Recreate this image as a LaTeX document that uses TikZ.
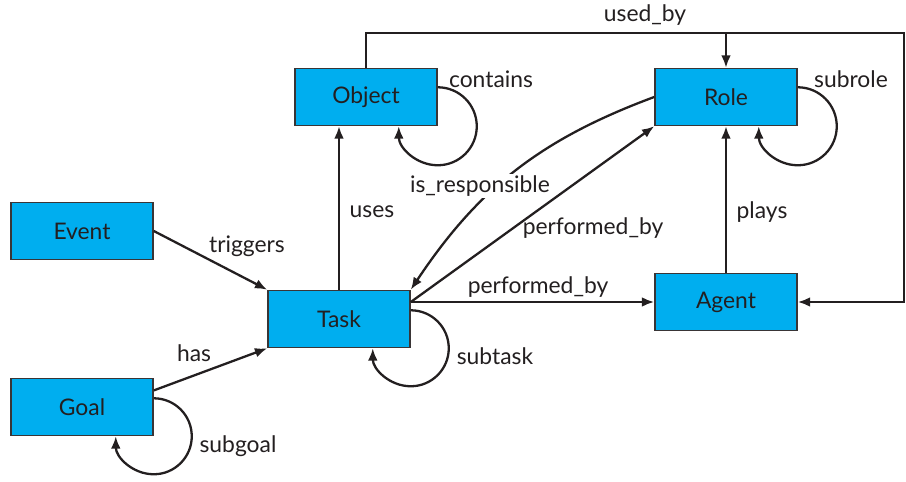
\documentclass[tikz,border=0pt]{standalone}
\usepackage{fontspec}
\setmainfont{Lato}
\usepackage{tikz}
\usetikzlibrary{arrows.meta,positioning,calc}
\definecolor{boxblue}{RGB}{0,174,239}
\definecolor{inkdark}{RGB}{35,31,32}

\begin{document}
\begin{tikzpicture}[x=0.02cm, y=-0.02cm,
    box/.style={rectangle, draw=inkdark!90, line width=0.9pt, fill=boxblue, minimum width=2.84cm, minimum height=1.14cm, inner sep=0pt, font=\fontsize{13}{15}\selectfont, text=inkdark},
    lbl/.style={font=\fontsize{13}{15}\selectfont, text=inkdark, inner sep=1pt},
    arr/.style={-{Latex[length=7pt,width=5.5pt]}, line width=1.3pt, draw=inkdark}
]
\useasboundingbox (0,0) rectangle (906,482);

% Classes
\node[box] (Object) at (366,97)  {Object};
\node[box] (Role)   at (726,97)  {Role};
\node[box] (Event)  at (82,231)  {Event};
\node[box] (Task)   at (339,319) {Task};
\node[box] (Agent)  at (726,302) {Agent};
\node[box] (Goal)   at (82,407)  {Goal};

% used_by (Object -> Role, Object -> Agent)
\coordinate (corner) at (904,33);
\draw[arr] (Object.north) |- (corner) |- (Agent.east);
\draw[arr] (Role.north |- corner) -- (Role.north);
\node[lbl] (l-usedby) at (645,15) {used\_by};

% Relations
\draw[arr] (Event.east) -- (Task.north west);
\node[lbl] (l-triggers) at (247,246) {triggers};
\draw[arr] (Goal.13) -- (Task.south west);
\node[lbl] (l-has) at (194,353) {has};
\draw[arr] (Task.north) -- (Task.north |- Object.south);
\node[lbl] (l-uses) at (372,212) {uses};
\draw[arr] (Agent.north) -- (Role.south);
\node[lbl] (l-plays) at (762,212) {plays};
\draw[arr] (Task.east |- Agent.west) -- (Agent.west);
\node[lbl] (l-perf1) at (538,287) {performed\_by};
\draw[arr] (Task.east |- Agent.west) -- (Role.south west);
\node[lbl] (l-perf2) at (593,228) {performed\_by};
\draw[arr] (Role.west) to[bend right=18] (Task.north east);
\node[lbl, fill=white] (l-resp) at (480,186) {is\_responsible};

% Self loops
\draw[arr] (Object.south east) ++(0,-39) arc[start angle=90, end angle=-180, radius=0.78cm];
\node[lbl] (l-contains) at (491,79) {contains};
\draw[arr] (Role.south east) ++(0,-39) arc[start angle=90, end angle=-180, radius=0.78cm];
\node[lbl] (l-subrole) at (851,79) {subrole};
\draw[arr] (Task.south east) ++(0,-38) arc[start angle=90, end angle=-180, radius=0.76cm];
\node[lbl] (l-subtask) at (495,356) {subtask};
\draw[arr] (Goal.south east) ++(0,-38) arc[start angle=90, end angle=-180, radius=0.76cm];
\node[lbl] (l-subgoal) at (238,446) {subgoal};
\end{tikzpicture}
\end{document}
